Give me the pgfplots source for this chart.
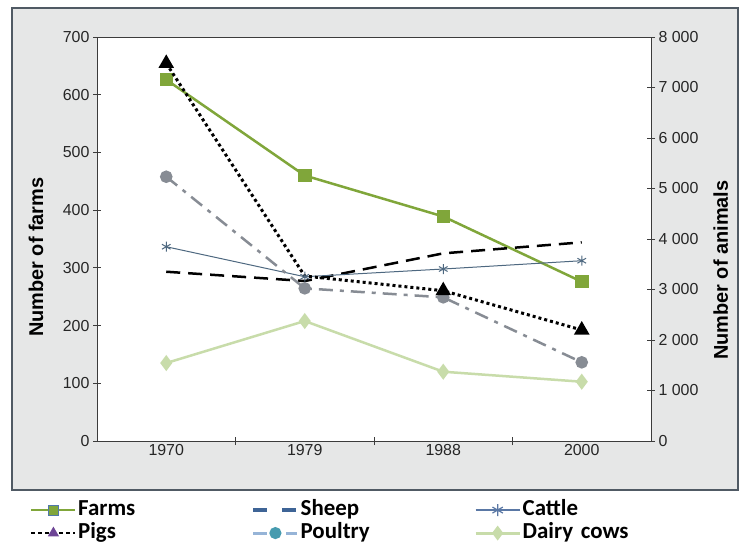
\documentclass[border=0pt]{standalone}
\usepackage{fontspec}
\setmainfont{Liberation Sans}
\newfontfamily\legfont{Carlito}
\usepackage{pgfplots}
\pgfplotsset{compat=1.18}

\definecolor{farmgreen}{RGB}{128,166,58}
\definecolor{dairygreen}{RGB}{200,220,170}
\definecolor{poultrygrey}{RGB}{135,140,148}
\definecolor{cattleblue}{RGB}{78,104,128}
\definecolor{framegrey}{RGB}{230,231,231}
\definecolor{frameedge}{RGB}{80,90,100}
\definecolor{axisgrey}{RGB}{60,60,60}
\definecolor{legblue}{RGB}{62,100,150}
\definecolor{legcattle}{RGB}{90,120,165}
\definecolor{legpurple}{RGB}{110,70,150}
\definecolor{legpoultry}{RGB}{150,180,215}
\definecolor{legteal}{RGB}{70,155,175}
\definecolor{legfarmedge}{RGB}{80,120,170}

\pgfplotsset{
  chartbase/.style={
    scale only axis, width=554bp, height=404bp,
    at={(97bp,-441bp)}, anchor=south west,
    xmin=-0.5, xmax=3.5,
    tick align=center, major tick length=8bp,
    tick style={axisgrey, line width=0.8bp},
    axis line style={axisgrey, line width=1bp},
    every tick label/.append style={font=\fontsize{16}{18}\selectfont, text=black!85},
    /pgf/number format/assume math mode=true,
    clip=false,
  },
}

\begin{document}
\begin{tikzpicture}
\useasboundingbox (0,0) rectangle (740bp,-545bp);
\fill[framegrey, draw=frameedge, line width=1.5bp] (12bp,-8bp) rectangle (738bp,-490bp);

% left axis: farms
\begin{axis}[chartbase,
  axis background/.style={fill=white},
  ymin=0, ymax=700, ytick={0,100,...,700},
  ytick pos=left, xtick pos=left,
  xtick={0.5,1.5,2.5}, xticklabels={},
  extra x ticks={0,1,2,3},
  extra x tick labels={1970,1979,1988,2000},
  extra x tick style={major tick length=0pt},
  ylabel={Number of farms},
  ylabel style={font=\fontsize{20}{22}\selectfont\bfseries,
    at={(axis description cs:-0.110,0.455)}, anchor=center},
]
\addplot[farmgreen, line width=2.5bp, mark=square*, mark size=5.5bp]
  coordinates {(0,626) (1,460) (2,389) (3,276)};
\end{axis}

% right axis: animals
\begin{axis}[chartbase,
  ymin=0, ymax=8000, ytick={0,1000,...,8000},
  axis y line*=right, axis x line=none,
  yticklabel style={/pgf/number format/1000 sep={\ }},
  ylabel={Number of animals},
  ylabel style={font=\fontsize{20}{22}\selectfont\bfseries,
    at={(axis description cs:1.126,0.423)}, anchor=center},
  legend columns=3,
  legend image code/.code={\draw[mark repeat=2,mark phase=2,#1]
    plot coordinates {(0bp,0bp) (22bp,0bp) (44bp,0bp)};},
  legend style={at={(axis description cs:-0.121,-0.142)}, anchor=north west,
    draw=none, fill=none, inner sep=0pt, row sep=0bp,
    font=\legfont\bfseries\fontsize{23}{25}\selectfont,
    nodes={text width=172bp, inner sep=1.5bp, text height=15bp, text depth=5bp}},
]
\addlegendimage{farmgreen, line width=2.5bp, mark=square*, mark size=5bp,
  mark options={fill=farmgreen, draw=legfarmedge, line width=1bp}}
\addlegendentry{Farms}
\addlegendimage{legblue, line width=3.5bp, dash pattern=on 14bp off 15bp}
\addlegendentry{Sheep}
\addlegendimage{legcattle, line width=1.2bp, mark=asterisk, mark size=6bp}
\addlegendentry{Cattle}
\addlegendimage{black, line width=1.5bp, dash pattern=on 4bp off 3bp,
  mark=triangle*, mark size=5bp, mark options={solid, legpurple}}
\addlegendentry{Pigs}
\addlegendimage{legpoultry, line width=3bp, dash pattern=on 14bp off 8bp on 3bp off 8bp,
  mark=*, mark size=4.5bp, mark options={solid, legteal}}
\addlegendentry{Poultry}
\addlegendimage{dairygreen, line width=3bp, mark=diamond*, mark size=5bp}
\addlegendentry{Dairy cows}

\addplot[forget plot, dairygreen, line width=2.5bp, mark=diamond*, mark size=6bp]
  coordinates {(0,1544) (1,2376) (2,1372) (3,1174)};
\addplot[forget plot, black, line width=2.5bp, dash pattern=on 14bp off 8bp]
  coordinates {(0,3352) (1,3168) (2,3716) (3,3934)};
\addplot[forget plot, cattleblue, line width=1bp, mark=asterisk, mark size=5bp]
  coordinates {(0,3847) (1,3253) (2,3406) (3,3570)};
\addplot[forget plot, poultrygrey, line width=2.5bp,
  dash pattern=on 14bp off 7bp on 4bp off 7bp,
  mark=*, mark size=5bp, mark options={solid}]
  coordinates {(0,5233) (1,3023) (2,2845) (3,1558)};
\addplot[forget plot, black, line width=3bp, dash pattern=on 3bp off 3bp,
  mark=triangle*, mark size=6bp, mark options={solid}, mark indices={1,3,4}]
  coordinates {(0,7478) (1,3267) (2,2976) (3,2198)};
\end{axis}
\end{tikzpicture}
\end{document}
